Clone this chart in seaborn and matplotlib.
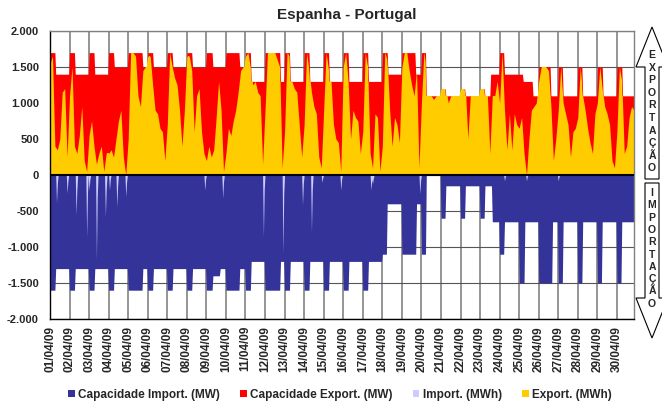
import numpy as np
import pandas as pd
import matplotlib
matplotlib.use("Agg")
import matplotlib.pyplot as plt
from matplotlib.patches import Patch, Polygon
from matplotlib.ticker import FuncFormatter
import seaborn as sns

# day labels of the category axis (one tick per day, hourly data)
day_labels = [f"{d:02d}/04/09" for d in range(1, 31)]

# export capacity (MW): per day, (start hour, value) steps
export_cap_steps = [
    [(0, 1700), (7, 1400)], [(0, 1700), (7, 1400)], [(0, 1700), (7, 1400)],
    [(0, 1700), (7, 1500)], [(0, 1700), (18, 1500)], [(0, 1700), (7, 1500)],
    [(0, 1700), (7, 1500)], [(0, 1700), (7, 1500)], [(0, 1700), (8, 1500)],
    [(0, 1700), (17, 1500)], [(0, 1700), (7, 1300)], [(0, 1700), (19, 1300)],
    [(0, 1700), (7, 1300)], [(0, 1700), (7, 1300)], [(0, 1700), (7, 1300)],
    [(0, 1700), (7, 1300)], [(0, 1700), (7, 1300)], [(0, 1700), (7, 1400)],
    [(0, 1700), (17, 1400)], [(0, 1700), (6, 1100)], [(0, 1200), (6, 1100)],
    [(0, 1200), (6, 1100)], [(0, 1200), (6, 1100), (13, 1400)],
    [(0, 1700), (6, 1400)], [(0, 1400), (5, 1300), (17, 1100)],
    [(0, 1500), (15, 1100)], [(0, 1500), (6, 1100)], [(0, 1500), (6, 1100)],
    [(0, 1500), (7, 1100)], [(0, 1500), (7, 1100)],
]

# import capacity (MW): per day, (start hour, value) steps
import_cap_steps = [
    [(0, -1600), (7, -1300)], [(0, -1600), (7, -1300)], [(0, -1600), (7, -1300)],
    [(0, -1600), (7, -1300)], [(0, -1600), (18, -1300)], [(0, -1600), (7, -1300)],
    [(0, -1600), (7, -1300)], [(0, -1600), (7, -1300)],
    [(0, -1600), (8, -1400), (17, -1300)], [(0, -1600), (17, -1300)],
    [(0, -1600), (7, -1200)], [(0, -1600), (19, -1200)], [(0, -1600), (7, -1200)],
    [(0, -1600), (7, -1200)], [(0, -1600), (7, -1200)], [(0, -1600), (7, -1200)],
    [(0, -1600), (7, -1200)], [(0, -1100), (6, -400)], [(0, -1100), (18, -400)],
    [(0, -1100), (6, 0)], [(0, -600), (6, -150)], [(0, -600), (6, -150)],
    [(0, -600), (6, -150), (15, -650)], [(0, -1100), (6, -650)],
    [(0, -1500), (7, -650)], [(0, -1500), (17, -650)], [(0, -1500), (6, -650)],
    [(0, -1500), (6, -650)], [(0, -1500), (6, -650)], [(0, -1500), (6, -650)],
]

# export flow (MWh), read every 3 hours: h0, h3, ..., h21
export_mwh = [
    [1550, 1650, 400, 350, 500, 1150, 1200, 250],
    [1100, 1500, 400, 300, 550, 950, 200, 50],
    [550, 750, 400, 150, 300, 400, 50, 300],
    [300, 350, 250, 500, 750, 900, 250, 0],
    [500, 1700, 1700, 1650, 1100, 950, 1450, 1500],
    [1650, 1650, 1250, 900, 850, 650, 600, 200],
    [700, 1700, 1500, 1350, 1250, 900, 400, 900],
    [1650, 1650, 1450, 600, 1100, 1200, 600, 300],
    [200, 400, 250, 350, 800, 1300, 900, 50],
    [300, 650, 550, 750, 900, 1150, 1450, 1500],
    [1650, 1700, 1500, 1250, 1300, 1150, 1100, 150],
    [900, 1700, 1700, 1700, 1700, 1600, 1500, 100],
    [600, 1700, 1650, 1300, 1200, 1150, 700, 250],
    [700, 1700, 1450, 1150, 950, 850, 250, 100],
    [900, 1700, 1450, 1300, 700, 500, 450, 50],
    [1500, 1700, 1300, 500, 900, 800, 750, 300],
    [600, 1700, 1500, 300, 100, 850, 800, 50],
    [400, 1700, 1600, 900, 400, 800, 700, 450],
    [1500, 1700, 1700, 1450, 1250, 1100, 1450, 100],
    [1000, 1700, 1500, 1100, 1100, 1050, 1100, 1100],
    [1200, 1200, 1200, 1000, 1100, 1100, 1100, 1100],
    [1200, 1200, 1200, 500, 1100, 1100, 1100, 1100],
    [1200, 1200, 1200, 1100, 300, 1100, 1100, 1300],
    [1000, 1700, 900, 350, 850, 350, 850, 700],
    [650, 800, 300, 0, 500, 900, 950, 1000],
    [1300, 1500, 1500, 1500, 1450, 950, 200, 500],
    [900, 1500, 1000, 850, 700, 250, 600, 650],
    [800, 1500, 1100, 900, 650, 450, 300, 850],
    [1000, 1500, 1200, 950, 850, 700, 200, 100],
    [600, 1500, 1300, 300, 400, 800, 950, 900],
]

# import flow (MWh): zero except these hours (peak hour and the hour after)
import_day = [1, 1, 2, 2, 3, 3, 3, 4, 4, 4, 8, 9, 11, 12, 13, 14, 14, 15, 17, 17, 19, 24, 25, 27]
import_hour = [8, 21, 8, 21, 0, 9, 20, 1, 10, 21, 22, 20, 22, 22, 22, 9, 22, 21, 10, 12, 22, 6, 9, 0]
import_mwh = [-390, -250, -550, -860, -210, -1180, -580, -210, -440, -300, -210, -320,
              -860, -1090, -420, -790, -100, -210, -210, -120, -260, -80, -80, -80]
import_mwh_next = [-120, -80, -200, -250, -60, -300, -200, -60, -150, -100, -60, -100,
                   -200, -250, -120, -200, -30, -60, -60, -40, -80, -20, -20, -20]

legend_labels = ["Capacidade Import. (MW)", "Capacidade Export. (MW)",
                 "Import. (MWh)", "Export. (MWh)"]
colors = ["#333399", "#FF0000", "#CCCCFF", "#FFCC00"]


def hourly_steps(steps):
    out = np.zeros(len(steps) * 24)
    for d, segs in enumerate(steps):
        for k, (start, val) in enumerate(segs):
            end = segs[k + 1][0] if k + 1 < len(segs) else 24
            out[d * 24 + start:d * 24 + end] = val
    return out


hours = np.arange(720)
cap = pd.DataFrame({
    "hour": hours,
    "export_cap": hourly_steps(export_cap_steps),
    "import_cap": hourly_steps(import_cap_steps),
})
cap["import_mwh"] = 0.0
for d, h, v, v2 in zip(import_day, import_hour, import_mwh, import_mwh_next):
    i = (d - 1) * 24 + h
    cap.loc[i, "import_mwh"] = v
    if i + 1 < 720:
        cap.loc[i + 1, "import_mwh"] = v2

exp = pd.DataFrame({
    "hour": [d * 24 + 3 * k for d in range(30) for k in range(8)],
    "export_mwh": [v for row in export_mwh for v in row],
})

sns.set_theme(style="white")
plt.rcParams["font.family"] = ["Liberation Sans", "DejaVu Sans"]
plt.rcParams["font.weight"] = "bold"

fig = plt.figure(figsize=(6.62, 4.03), dpi=100)
ax = fig.add_axes([50 / 662, 1 - 319 / 403, 584 / 662, 288 / 403])

ax.fill_between(cap["hour"], cap["import_cap"], 0, color=colors[0], lw=0)
red = ax.fill_between(cap["hour"], cap["export_cap"], 0, color=colors[1], lw=0)
ax.fill_between(cap["hour"], cap["import_mwh"], 0, color=colors[2], lw=0)
yellow = ax.fill_between(exp["hour"], exp["export_mwh"], 0, color=colors[3], lw=0)
yellow.set_clip_path(red.get_paths()[0], ax.transData)

ax.axhline(0, color="black", lw=1.5, zorder=5)

ax.set_xlim(0, 717)
ax.set_ylim(-2000, 2000)
ax.set_yticks(np.arange(-2000, 2001, 500))
ax.yaxis.set_major_formatter(FuncFormatter(lambda v, p: f"{v:,.0f}".replace(",", ".")))
ax.set_xticks(np.arange(0, 720, 24))
ax.set_xticklabels(day_labels, rotation=90)
ax.tick_params(axis="x", length=0, pad=5, labelsize=8.5)
ax.tick_params(axis="y", length=0, pad=8, labelsize=8)
for lab in ax.get_xticklabels() + ax.get_yticklabels():
    lab.set_fontweight("bold")

ax.set_axisbelow(True)
ax.yaxis.grid(True, color="#555555", lw=0.8)
ax.xaxis.grid(True, color="#8c8c8c", lw=1.3)
for side in ["left", "bottom"]:
    ax.spines[side].set_color("black")
    ax.spines[side].set_linewidth(1)
for side in ["top", "right"]:
    ax.spines[side].set_color("#808080")
    ax.spines[side].set_linewidth(1)

fig.text(347 / 662, 1 - 15 / 403, "Espanha - Portugal", ha="center", va="center",
         fontsize=11, fontweight="bold")

handles = [Patch(facecolor=c, edgecolor="none") for c in colors]
fig.legend(handles, legend_labels, loc="center", bbox_to_anchor=(340 / 662, 1 - 395 / 403),
           ncol=4, frameon=False, fontsize=8.5, handlelength=0.55, handleheight=0.55,
           handletextpad=0.3, columnspacing=1.7, prop={"weight": "bold", "size": 8.5})


def px(pts):
    return [(x / 662, 1 - y / 403) for x, y in pts]


up = [(652, 27), (668, 67), (659, 67), (659, 179), (645, 179), (645, 67), (636, 67)]
down = [(645, 183), (659, 183), (659, 298), (668, 298), (652, 338), (636, 298), (645, 298)]
for shape in (up, down):
    fig.add_artist(Polygon(px(shape), closed=True, transform=fig.transFigure,
                           facecolor="white", edgecolor="black", lw=0.8))

for i, ch in enumerate("EXPORTAÇÃO"):
    fig.text(652 / 662, 1 - (55 + 12.6 * i) / 403, ch, ha="center", va="center",
             fontsize=7.5, fontweight="bold")
for i, ch in enumerate("IMPORTAÇÃO"):
    fig.text(652 / 662, 1 - (193 + 12.3 * i) / 403, ch, ha="center", va="center",
             fontsize=7.5, fontweight="bold")

fig.savefig("out.png", dpi=100)
